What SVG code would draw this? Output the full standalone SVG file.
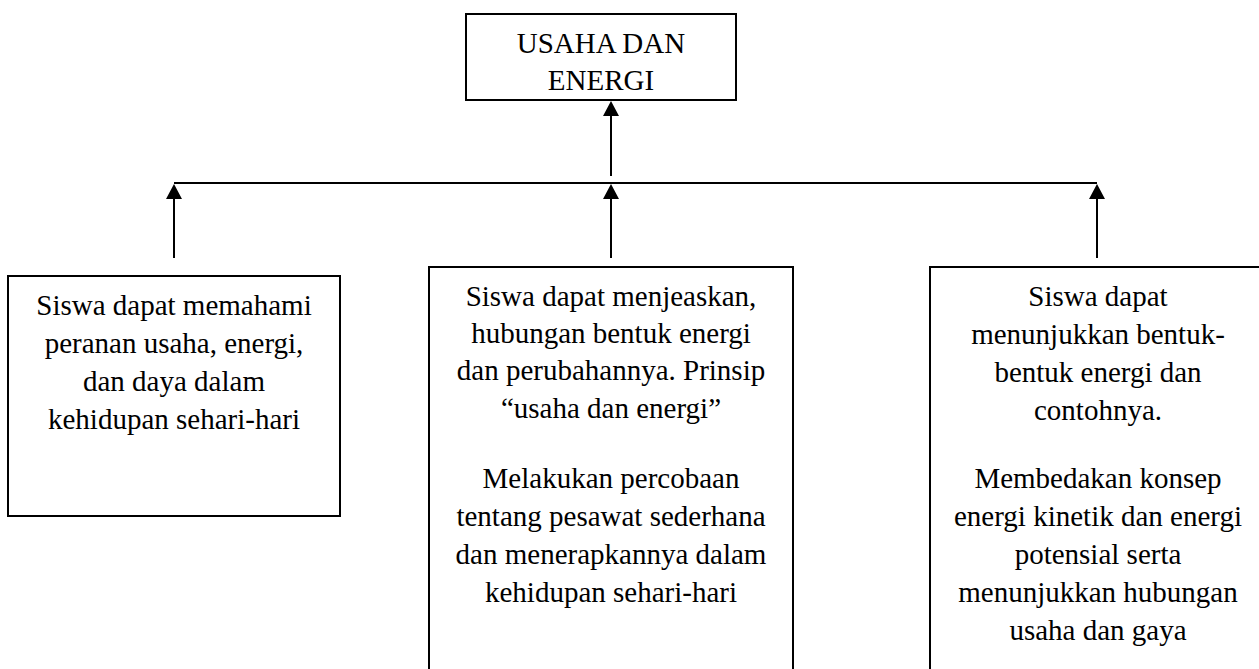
<svg xmlns="http://www.w3.org/2000/svg" width="1259" height="669" viewBox="0 0 1259 669">
  <style>
    .box { fill: #ffffff; stroke: #000000; stroke-width: 2; }
    .lbl { font-family: "Liberation Serif", "Times New Roman", serif; font-size: 29px; fill: #000000; text-anchor: middle; }
    .wire { fill: none; stroke: #000000; stroke-width: 2; }
    .arrow { fill: none; stroke: #000000; stroke-width: 2; marker-end: url(#head); }
  </style>
  <defs>
    <marker id="head" markerUnits="userSpaceOnUse" viewBox="0 0 15 16" refX="7" refY="8" markerWidth="15" markerHeight="16" orient="auto">
      <path d="M0,0 L15,8 L0,16 z" fill="#000000"/>
    </marker>
  </defs>
  <rect width="1259" height="669" fill="#ffffff"/>

  <!-- root topic -->
  <g id="node-root">
    <rect class="box" x="466" y="14" width="270" height="86"/>
    <text class="lbl" x="601" y="53">USAHA DAN</text>
    <text class="lbl" x="601" y="90">ENERGI</text>
  </g>

  <!-- connectors -->
  <g id="connectors">
    <line class="arrow" x1="611" y1="176" x2="611" y2="109"/>
    <line class="wire" x1="174" y1="183" x2="1097" y2="183"/>
    <line class="arrow" x1="174" y1="258" x2="174" y2="192"/>
    <line class="arrow" x1="611" y1="258" x2="611" y2="192"/>
    <line class="arrow" x1="1097" y1="258" x2="1097" y2="192"/>
  </g>

  <!-- left objective -->
  <g id="node-left">
    <rect class="box" x="8" y="276" width="332" height="240"/>
    <text class="lbl" x="174" y="315">Siswa dapat memahami</text>
    <text class="lbl" x="174" y="353">peranan usaha, energi,</text>
    <text class="lbl" x="174" y="391">dan daya dalam</text>
    <text class="lbl" x="174" y="429">kehidupan sehari-hari</text>
  </g>

  <!-- middle objective -->
  <g id="node-middle">
    <rect class="box" x="429" y="267" width="364" height="420"/>
    <text class="lbl" x="611" y="306">Siswa dapat menjeaskan,</text>
    <text class="lbl" x="611" y="343">hubungan bentuk energi</text>
    <text class="lbl" x="611" y="380">dan perubahannya. Prinsip</text>
    <text class="lbl" x="611" y="418">“usaha dan energi”</text>
    <text class="lbl" x="611" y="488">Melakukan percobaan</text>
    <text class="lbl" x="611" y="526">tentang pesawat sederhana</text>
    <text class="lbl" x="611" y="564">dan menerapkannya dalam</text>
    <text class="lbl" x="611" y="602">kehidupan sehari-hari</text>
  </g>

  <!-- right objective -->
  <g id="node-right">
    <rect class="box" x="930" y="267" width="336" height="420"/>
    <text class="lbl" x="1098" y="306">Siswa dapat</text>
    <text class="lbl" x="1098" y="344">menunjukkan bentuk-</text>
    <text class="lbl" x="1098" y="382">bentuk energi dan</text>
    <text class="lbl" x="1098" y="420">contohnya.</text>
    <text class="lbl" x="1098" y="488">Membedakan konsep</text>
    <text class="lbl" x="1098" y="526">energi kinetik dan energi</text>
    <text class="lbl" x="1098" y="564">potensial serta</text>
    <text class="lbl" x="1098" y="602">menunjukkan hubungan</text>
    <text class="lbl" x="1098" y="640">usaha dan gaya</text>
  </g>
</svg>
